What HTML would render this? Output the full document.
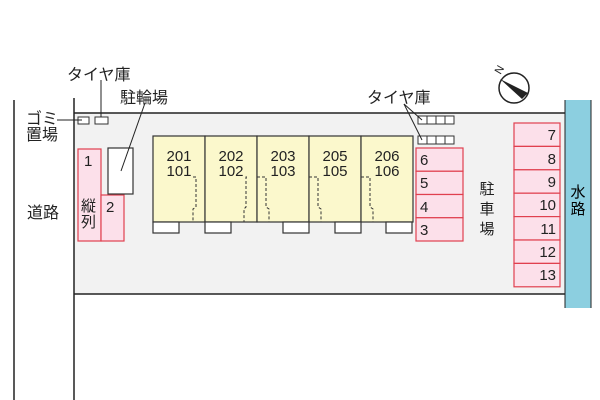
<!DOCTYPE html>
<html><head><meta charset="utf-8"><style>
html,body{margin:0;padding:0;background:#fff;}
svg{display:block;font-family:"Liberation Sans","Noto Sans CJK JP",sans-serif;}
</style></head><body>
<svg width="600" height="400" viewBox="0 0 600 400" xmlns="http://www.w3.org/2000/svg">
<rect x="0" y="0" width="600" height="400" fill="#fff"/>
<!-- lot -->
<rect x="74" y="113" width="491" height="181" fill="#f2f2f2"/>
<line x1="74" y1="113" x2="565" y2="113" stroke="#222" stroke-width="1.5"/>
<line x1="74" y1="294" x2="565" y2="294" stroke="#222" stroke-width="1.5"/>
<line x1="74" y1="98" x2="74" y2="400" stroke="#222" stroke-width="1.5"/>
<line x1="14" y1="100" x2="14" y2="400" stroke="#222" stroke-width="1.5"/>
<!-- water -->
<rect x="565" y="100" width="26" height="208" fill="#8ccfe0"/>
<line x1="565" y1="100" x2="565" y2="308" stroke="#222" stroke-width="1"/>
<line x1="591" y1="100" x2="591" y2="308" stroke="#222" stroke-width="1"/>
<text x="578" y="197" font-size="15" text-anchor="middle">水</text>
<text x="578" y="214" font-size="15" text-anchor="middle">路</text>
<!-- buildings -->
<g stroke="#333" stroke-width="1.2">
<rect x="153" y="136" width="52" height="86" fill="#fbf8cc"/>
<rect x="205" y="136" width="52" height="86" fill="#fbf8cc"/>
<rect x="257" y="136" width="52" height="86" fill="#fbf8cc"/>
<rect x="309" y="136" width="52" height="86" fill="#fbf8cc"/>
<rect x="361" y="136" width="52" height="86" fill="#fbf8cc"/>
<rect x="153" y="222" width="26" height="11" fill="#fff"/>
<rect x="205" y="222" width="26" height="11" fill="#fff"/>
<rect x="283" y="222" width="26" height="11" fill="#fff"/>
<rect x="335" y="222" width="26" height="11" fill="#fff"/>
<rect x="386" y="222" width="26" height="11" fill="#fff"/>
</g>
<g fill="none" stroke="#333" stroke-width="1" stroke-dasharray="3,2">
<polyline points="193,177 196,177 196,207 193,209 193,222"/>
<polyline points="247,177 246,177 246,207 244,209 244,222"/>
<polyline points="257,177 266,177 266,207 269,209 269,222"/>
<polyline points="309,177 318,177 318,207 321,209 321,222"/>
<polyline points="361,177 370,177 370,207 373,209 373,222"/>
</g>
<g font-size="15" text-anchor="middle" fill="#222">
<text x="179" y="161">201</text><text x="179" y="176">101</text>
<text x="231" y="161">202</text><text x="231" y="176">102</text>
<text x="283" y="161">203</text><text x="283" y="176">103</text>
<text x="335" y="161">205</text><text x="335" y="176">105</text>
<text x="387" y="161">206</text><text x="387" y="176">106</text>
</g>
<!-- parking left -->
<g fill="#fce0ea" stroke="#e0404f" stroke-width="1.2">
<rect x="78" y="149" width="23" height="92"/>
<rect x="101" y="195" width="23" height="46"/>
</g>
<rect x="108" y="148" width="25" height="46" fill="#fff" stroke="#333" stroke-width="1.2"/>
<g font-size="15" fill="#222">
<text x="84" y="166">1</text>
<text x="106" y="212">2</text>
<text x="81" y="211">縦</text>
<text x="81" y="227">列</text>
</g>
<!-- parking 3-6 -->
<g fill="#fce0ea" stroke="#e0404f" stroke-width="1.2">
<rect x="416" y="148" width="47" height="23.25"/>
<rect x="416" y="171.25" width="47" height="23.25"/>
<rect x="416" y="194.5" width="47" height="23.25"/>
<rect x="416" y="217.75" width="47" height="23.25"/>
</g>
<g font-size="15" fill="#222">
<text x="420" y="165">6</text><text x="420" y="188">5</text><text x="420" y="212">4</text><text x="420" y="235">3</text>
</g>
<!-- parking 7-13 -->
<g fill="#fce0ea" stroke="#e0404f" stroke-width="1.2">
<rect x="514" y="123" width="46" height="23.4"/>
<rect x="514" y="146.4" width="46" height="23.4"/>
<rect x="514" y="169.8" width="46" height="23.4"/>
<rect x="514" y="193.2" width="46" height="23.4"/>
<rect x="514" y="216.6" width="46" height="23.4"/>
<rect x="514" y="240" width="46" height="23.4"/>
<rect x="514" y="263.4" width="46" height="23.4"/>
</g>
<g font-size="15" fill="#222" text-anchor="end">
<text x="556" y="140">7</text><text x="556" y="164">8</text><text x="556" y="187">9</text><text x="556" y="210">10</text><text x="556" y="234">11</text><text x="556" y="257">12</text><text x="556" y="280">13</text>
</g>
<g font-size="15" fill="#222" text-anchor="middle">
<text x="487" y="194">駐</text><text x="487" y="214">車</text><text x="487" y="234">場</text>
</g>
<!-- tire boxes -->
<g fill="#fff" stroke="#333" stroke-width="1">
<rect x="78" y="117" width="11" height="7"/>
<rect x="95" y="117" width="13" height="7"/>
<rect x="418" y="116" width="36" height="8"/>
<rect x="418" y="136" width="36" height="8"/>
<line x1="427" y1="116" x2="427" y2="124"/><line x1="436" y1="116" x2="436" y2="124"/><line x1="445" y1="116" x2="445" y2="124"/>
<line x1="427" y1="136" x2="427" y2="144"/><line x1="436" y1="136" x2="436" y2="144"/><line x1="445" y1="136" x2="445" y2="144"/>
</g>
<!-- leader lines -->
<g stroke="#222" stroke-width="1" fill="none">
<line x1="57" y1="120" x2="82" y2="120"/>
<line x1="101" y1="80" x2="101" y2="117"/>
<line x1="145" y1="103" x2="121" y2="171"/>
<line x1="404" y1="104" x2="422" y2="120"/>
<line x1="404" y1="104" x2="422" y2="140"/>
</g>
<g font-size="16" fill="#222">
<text x="67" y="80">タイヤ庫</text>
<text x="120" y="103">駐輪場</text>
<text x="26" y="124">ゴミ</text>
<text x="26" y="140">置場</text>
<text x="27" y="218">道路</text>
<text x="367" y="103">タイヤ庫</text>
</g>
<!-- compass -->
<circle cx="514" cy="88" r="15" fill="#fff" stroke="#222" stroke-width="1.5"/>
<polygon points="500,79 528,93 522,99" fill="#222"/>
<text x="497" y="77" font-size="11" fill="#222" transform="rotate(-60 497 73)">N</text>
</svg>
</body></html>
